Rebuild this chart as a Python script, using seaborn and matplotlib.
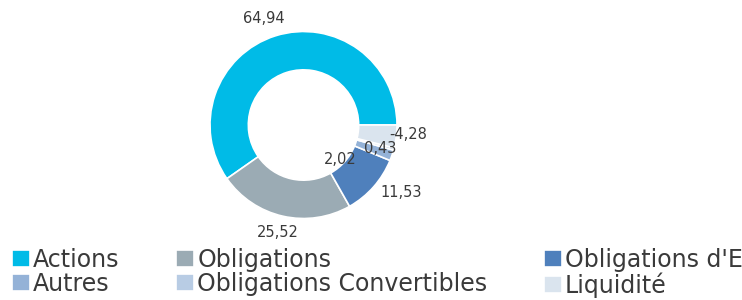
import matplotlib
matplotlib.use('Agg')
import matplotlib.pyplot as plt
import numpy as np
import seaborn as sns

# data
categories = ['Actions', 'Obligations', "Obligations d'E", 'Autres',
              'Obligations Convertibles', 'Liquidité']
values = [64.94, 25.52, 11.53, 2.02, 0.43, -4.28]
value_labels = ['64,94', '25,52', '11,53', '2,02', '0,43', '-4,28']
colors = ['#00BBE7', '#9BABB4', '#4F80BC', '#94B2D7', '#B8CCE4', '#DAE4EE']

# label placement (radius, angle in degrees)
label_pos = [(1.215, 110.2), (1.186, 256.8), (1.27, 325.6),
             (0.54, 316.5), (0.86, 343.0), (1.124, 354.9)]

sns.set_theme(style='white')
plt.rcParams['font.family'] = ['DejaVu Sans']
text_color = '#3a3a3a'

fig = plt.figure(figsize=(7.42, 3.0), dpi=100)
ax = fig.add_axes([210 / 742, 1 - 218.5 / 300, 187 / 742, 187 / 300])

wedges, _ = ax.pie(np.abs(values), colors=colors, startangle=0, counterclock=True,
                   wedgeprops=dict(width=0.41, edgecolor='white', linewidth=1.2))
ax.set_xlim(-1, 1)
ax.set_ylim(-1, 1)
ax.set_aspect('equal')

for lab, (r, ang) in zip(value_labels, label_pos):
    t = np.deg2rad(ang)
    ax.text(r * np.cos(t), r * np.sin(t), lab, ha='center', va='center',
            fontsize=10.5, color=text_color, clip_on=False)

# legend: fill row by row (matplotlib fills columns first)
# the last label runs off the right edge, as in the original
order = [0, 3, 1, 4, 2, 5]
fig.legend([wedges[i] for i in order], [categories[i] for i in order],
           ncol=3, loc='upper left', bbox_to_anchor=(12 / 742, 1 - 248 / 300),
           frameon=False, fontsize=17, handlelength=0.76, handleheight=0.72,
           handletextpad=0.13, columnspacing=2.4, labelspacing=0.0,
           borderpad=0, borderaxespad=0, labelcolor=text_color)

fig.savefig('out.png', dpi=100, facecolor='white')
